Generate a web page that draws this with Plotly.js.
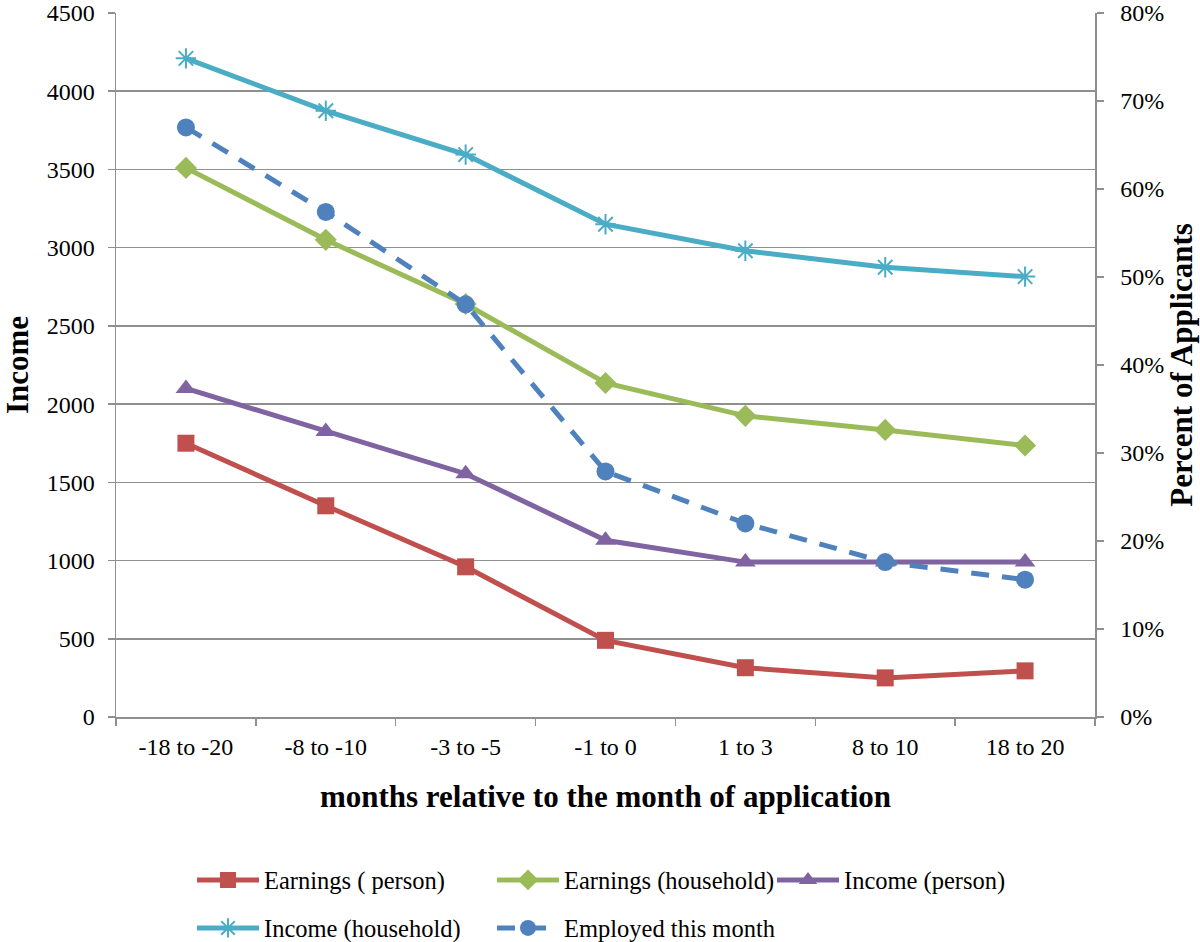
<!DOCTYPE html>
<html>
<head>
<meta charset="utf-8">
<script src="https://cdn.plot.ly/plotly-3.0.1.min.js"></script>
<style>html,body{margin:0;padding:0;background:#fff}#chart{width:1200px;height:942px}</style>
</head>
<body>
<div id="chart"></div>
<script>
const categories = ["-18 to -20", "-8 to -10", "-3 to -5", "-1 to 0", "1 to 3", "8 to 10", "18 to 20"];
const earningsPerson = [1750, 1350, 960, 490, 315, 250, 295];
const earningsHousehold = [3510, 3050, 2640, 2135, 1925, 1835, 1735];
const incomePerson = [2100, 1825, 1555, 1130, 990, 990, 990];
const incomeHousehold = [4210, 3875, 3595, 3150, 2980, 2875, 2815];
const employedShare = [0.670, 0.574, 0.469, 0.279, 0.220, 0.176, 0.156];
const leftTicks = [0, 500, 1000, 1500, 2000, 2500, 3000, 3500, 4000, 4500];

const FONT = "Liberation Serif, Times New Roman, serif";
const GRID = "#8f8f8f";

const traces = [
  {x: categories, y: earningsPerson, name: "Earnings ( person)", type: "scatter", mode: "lines+markers",
   line: {color: "#C0504D", width: 5}, marker: {symbol: "square", size: 17, color: "#C0504D"}, legend: "legend"},
  {x: categories, y: earningsHousehold, name: "Earnings (household)", type: "scatter", mode: "lines+markers",
   line: {color: "#9BBB59", width: 5}, marker: {symbol: "diamond", size: 17, color: "#9BBB59"}, legend: "legend2"},
  {x: categories, y: incomePerson, name: "Income (person)", type: "scatter", mode: "lines+markers",
   line: {color: "#8064A2", width: 5}, marker: {symbol: "triangle-up", size: 18, color: "#8064A2"}, legend: "legend3"},
  {x: categories, y: incomeHousehold, name: "Income (household)", type: "scatter", mode: "lines+markers",
   line: {color: "#4BACC6", width: 5}, marker: {symbol: "asterisk-open", size: 17, color: "#4BACC6", line: {color: "#4BACC6", width: 2}}, legend: "legend4"},
  {x: categories, y: employedShare, name: "Employed this month", type: "scatter", mode: "lines+markers", yaxis: "y2",
   line: {color: "#4F81BD", width: 5, dash: "18px,13px"}, marker: {symbol: "circle", size: 18, color: "#4F81BD"}, legend: "legend5"}
];

function leg(xpx, ypx) {
  return {
    orientation: "h", xref: "container", yref: "container", xanchor: "left", yanchor: "middle",
    x: xpx / 1200, y: 1 - ypx / 942,
    font: {family: FONT, size: 24.5, color: "#000"},
    itemwidth: 62, bgcolor: "rgba(0,0,0,0)"
  };
}

const layout = {
  width: 1200, height: 942,
  paper_bgcolor: "#fff", plot_bgcolor: "#fff",
  margin: {l: 116, r: 105, t: 13, b: 225},
  font: {family: FONT, size: 24, color: "#000"},
  showlegend: true,
  legend: leg(192, 880),
  legend2: leg(492, 880),
  legend3: leg(772, 880),
  legend4: leg(192, 928),
  legend5: leg(492, 928),
  xaxis: {
    type: "category", range: [-0.5, categories.length - 0.5], autorange: false,
    tickson: "boundaries", ticks: "outside", ticklen: 7, tickcolor: GRID, tickwidth: 1.5,
    showline: true, linecolor: GRID, linewidth: 1.5, showgrid: false, zeroline: false,
    ticklabelstandoff: 8,
    tickfont: {family: FONT, size: 24, color: "#000"},
    title: {text: "<b>months relative to the month of application</b>", font: {family: FONT, size: 31, color: "#000"}, standoff: 26}
  },
  yaxis: {
    range: [0, 4500], autorange: false, tickvals: leftTicks, ticktext: leftTicks.map(String),
    ticks: "outside", ticklen: 7, tickcolor: GRID, tickwidth: 1.5,
    showline: true, linecolor: GRID, linewidth: 1.5, showgrid: true, gridcolor: GRID, gridwidth: 1.5, zeroline: false,
    ticklabelstandoff: 8,
    tickfont: {family: FONT, size: 24, color: "#000"},
    title: {text: "<b>Income</b>", font: {family: FONT, size: 31, color: "#000"}, standoff: 9}
  },
  yaxis2: {
    overlaying: "y", side: "right", range: [0, 0.8], autorange: false, dtick: 0.1, tickformat: ".0%",
    ticks: "outside", ticklen: 7, tickcolor: GRID, tickwidth: 1.5,
    showline: true, linecolor: GRID, linewidth: 1.5, showgrid: false, zeroline: false,
    ticklabelstandoff: 12,
    tickfont: {family: FONT, size: 24, color: "#000"},
    title: {text: "<b>Percent of Applicants</b>", font: {family: FONT, size: 31, color: "#000"}, standoff: 6}
  }
};

Plotly.newPlot("chart", traces, layout, {displayModeBar: false, staticPlot: true});
</script>
</body>
</html>
